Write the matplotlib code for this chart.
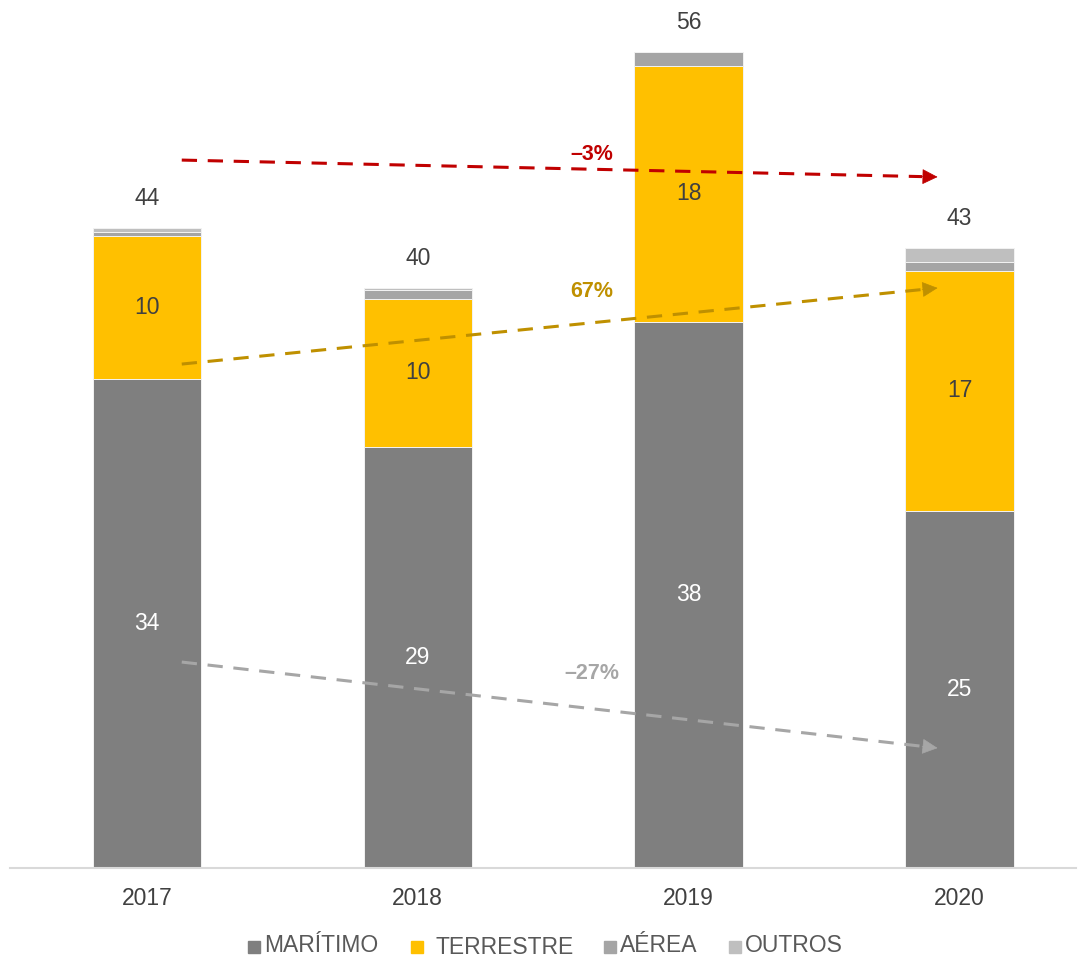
import matplotlib
matplotlib.use("Agg")
import matplotlib.pyplot as plt
from matplotlib.patches import Rectangle

plt.rcParams['font.family'] = ['Liberation Sans', 'DejaVu Sans']

# --- data -------------------------------------------------------------
years = ["2017", "2018", "2019", "2020"]
maritimo = [33.6, 28.9, 37.5, 24.5]
terrestre = [9.8, 10.2, 17.6, 16.5]
aerea = [0.3, 0.6, 0.95, 0.6]
outros = [0.25, 0.1, 0.0, 0.95]
series_names = ["MARÍTIMO", "TERRESTRE", "AÉREA", "OUTROS"]
series_colors = ["#7F7F7F", "#FFC000", "#A5A5A5", "#BFBFBF"]
trend_labels = ["\u20133%", "67%", "\u201327%"]
trend_colors = ["#C00000", "#BF9000", "#A6A6A6"]


def fmt(v):
    return f"{int(v + 0.5)}"


W, H = 1086, 960
fig = plt.figure(figsize=(W / 100, H / 100), dpi=100)
ax = fig.add_axes([10 / W, (H - 867.5) / H, 1066 / W, 867.5 / H])

x = list(range(len(years)))
bar_w = 0.4
stack = [maritimo, terrestre, aerea, outros]
bottoms = [0.0] * len(years)
for vals, col in zip(stack, series_colors):
    ax.bar(x, vals, bar_w, bottom=bottoms, color=col, edgecolor="#F2F2F2",
           linewidth=0.7, zorder=2)
    bottoms = [b + v for b, v in zip(bottoms, vals)]

totals = bottoms

# in-bar value labels
for i in x:
    ax.text(i, maritimo[i] / 2, fmt(maritimo[i]), ha="center", va="center",
            color="white", fontsize=16.5, zorder=4)
    ax.text(i, maritimo[i] + terrestre[i] / 2, fmt(terrestre[i]), ha="center",
            va="center", color="#404040", fontsize=16.5, zorder=4)
    ax.annotate(fmt(totals[i]), (i, totals[i]), xytext=(0, 21.5),
                textcoords="offset points", ha="center", va="center",
                color="#404040", fontsize=16.5)

# trend arrows (start -> end in data coordinates)
x0, x_tip, x_base = 0.129, 2.919, 2.862
trend_y = [(48.62, 47.46), (34.60, 39.83), (14.12, 8.21)]
label_pos = [(1.642, 49.0), (1.642, 39.6), (1.642, 13.3)]
for (ys, ye), col, lab, (lx, ly) in zip(trend_y, trend_colors, trend_labels, label_pos):
    yb = ys + (ye - ys) * (x_base - x0) / (x_tip - x0)
    ax.plot([x0, x_base], [ys, yb], color=col, lw=2.2, ls=(0, (5, 3.5)),
            zorder=5)
    ax.annotate("", xy=(x_tip, ye), xytext=(x_base, yb),
                arrowprops=dict(arrowstyle="-|>,head_length=1.0,head_width=0.5",
                                color=col, lw=0.5, shrinkA=0, shrinkB=0),
                zorder=5)
    ax.text(lx, ly, lab, ha="center", va="center", color=col, fontsize=15.5,
            fontweight="bold", zorder=6)

ax.set_xlim(-0.505, 3.43)
ax.set_ylim(0, 867.5 / 14.55)
ax.set_xticks(x)
ax.set_xticklabels(years, fontsize=16.5, color="#404040")
ax.tick_params(axis="x", length=0, pad=14)
ax.set_yticks([])
for s in ["top", "right", "left"]:
    ax.spines[s].set_visible(False)
ax.spines["bottom"].set_color("#D9D9D9")
ax.spines["bottom"].set_linewidth(1.5)

# legend along the bottom edge
legend_items = [(248, 264, 946), (411, 436, 948), (604, 620, 946), (729, 745, 946)]
for (sx, tx, ty), name, col in zip(legend_items, series_names, series_colors):
    fig.add_artist(Rectangle((sx / W, (H - 953) / H), 12 / W, 12 / H,
                             transform=fig.transFigure, color=col))
    fig.text(tx / W, (H - ty) / H, name, ha="left", va="center",
             fontsize=16.5, color="#595959")

fig.savefig("out.png", dpi=100)
